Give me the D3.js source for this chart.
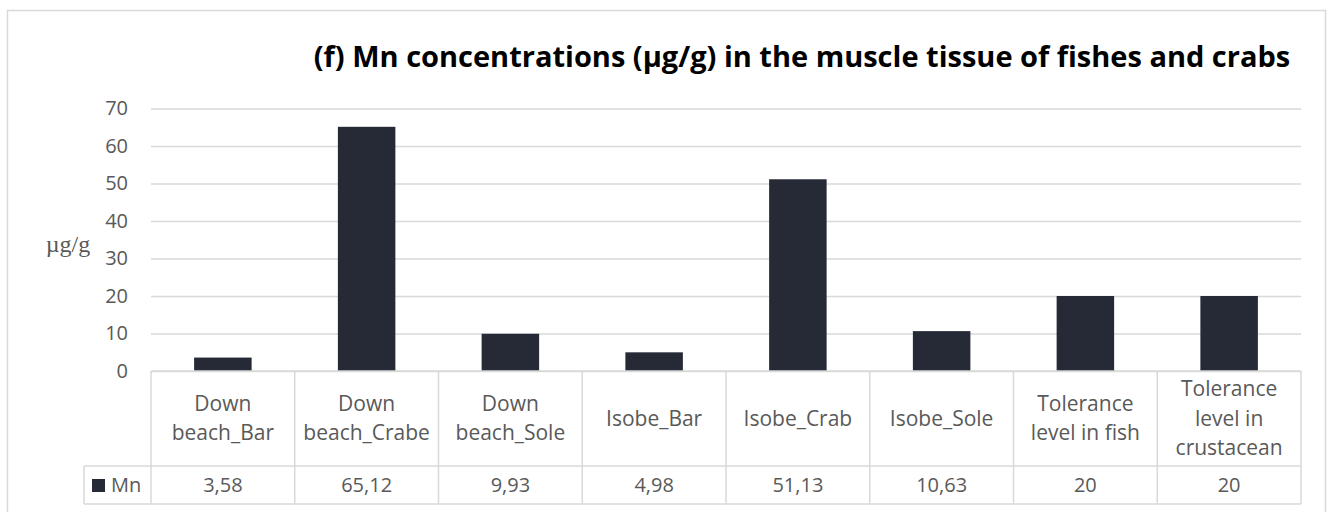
<!DOCTYPE html>
<html>
<head>
<meta charset="utf-8">
<script src="https://cdn.jsdelivr.net/npm/d3@7"></script>
<style>
  body { margin: 0; background: #fff; }
</style>
</head>
<body>
<div id="chart"></div>
<script>
// chart data
var categories = [
  ["Down", "beach_Bar"],
  ["Down", "beach_Crabe"],
  ["Down", "beach_Sole"],
  ["Isobe_Bar"],
  ["Isobe_Crab"],
  ["Isobe_Sole"],
  ["Tolerance", "level in fish"],
  ["Tolerance", "level in", "crustacean"]
];
var mnValues = [3.58, 65.12, 9.93, 4.98, 51.13, 10.63, 20, 20];
var valueLabels = ["3,58", "65,12", "9,93", "4,98", "51,13", "10,63", "20", "20"];
var yTicks = [0, 10, 20, 30, 40, 50, 60, 70];
var seriesName = "Mn";
var title = "(f) Mn concentrations (\u00b5g/g) in the muscle tissue of fishes and crabs";

var W = 1331, H = 512;
var plot = {left: 151, right: 1301, top: 108.5, bottom: 371};
var headerBottom = 466, tableBottom = 504, legendLeft = 84;
var grid = "#d9d9d9", textCol = "#595959", barCol = "#252a36";

var svg = d3.select("#chart").append("svg")
  .attr("width", W)
  .attr("height", H)
  .style("font-family", "'Open Sans', sans-serif");

// outer chart border
svg.append("rect")
  .attr("x", 7.5).attr("y", 10.5)
  .attr("width", 1318).attr("height", 520)
  .attr("fill", "white")
  .attr("stroke", grid).attr("stroke-width", 1.5);

// title
svg.append("text")
  .attr("x", 802).attr("y", 67)
  .attr("text-anchor", "middle")
  .style("font-family", "'Open Sans', sans-serif")
  .style("font-weight", "bold")
  .style("font-size", "29px")
  .attr("fill", "#000")
  .text(title);

var idx = d3.range(categories.length);

var x = d3.scaleBand()
  .domain(idx)
  .range([plot.left, plot.right])
  .paddingInner(0.6)
  .paddingOuter(0.3);

var xCell = d3.scaleBand()
  .domain(idx)
  .range([plot.left, plot.right]);

var y = d3.scaleLinear()
  .domain([0, 70])
  .range([plot.bottom, plot.top]);

// gridlines + y labels
var yAxis = svg.append("g")
  .attr("transform", "translate(" + plot.left + ",0)")
  .call(d3.axisLeft(y).tickValues(yTicks).tickSize(-(plot.right - plot.left)).tickPadding(23));
yAxis.select(".domain").remove();
yAxis.selectAll(".tick line").attr("stroke", grid).attr("stroke-width", 1.5);
yAxis.selectAll(".tick text")
  .attr("fill", textCol)
  .style("font-family", "'Open Sans', sans-serif")
  .style("font-size", "20px");

// y axis title
svg.append("text")
  .attr("x", 68).attr("y", 252)
  .attr("text-anchor", "middle")
  .style("font-family", "'Liberation Serif', 'Times New Roman', serif")
  .style("font-size", "24px")
  .attr("fill", textCol)
  .text("\u00b5g/g");

// bars
svg.selectAll(".bar")
  .data(mnValues)
  .enter()
  .append("rect")
    .attr("class", "bar")
    .attr("x", function(d, i) { return x(i); })
    .attr("y", function(d) { return y(d); })
    .attr("width", x.bandwidth())
    .attr("height", function(d) { return y(0) - y(d); })
    .attr("fill", barCol);

// data table lines
var tbl = svg.append("g")
  .attr("stroke", grid)
  .attr("stroke-width", 1.5);
tbl.append("line").attr("x1", plot.left).attr("x2", plot.right).attr("y1", plot.bottom).attr("y2", plot.bottom);
tbl.append("line").attr("x1", legendLeft).attr("x2", plot.right).attr("y1", headerBottom).attr("y2", headerBottom);
tbl.append("line").attr("x1", legendLeft).attr("x2", plot.right).attr("y1", tableBottom).attr("y2", tableBottom);
tbl.append("line").attr("x1", legendLeft).attr("x2", legendLeft).attr("y1", headerBottom).attr("y2", tableBottom);
tbl.selectAll(".vl")
  .data(idx.concat([categories.length]))
  .enter()
  .append("line")
    .attr("x1", function(i) { return i < categories.length ? xCell(i) : plot.right; })
    .attr("x2", function(i) { return i < categories.length ? xCell(i) : plot.right; })
    .attr("y1", plot.bottom)
    .attr("y2", tableBottom);

// category labels
var lineH = 29.5;
svg.selectAll(".cat")
  .data(categories)
  .enter()
  .append("text")
    .attr("class", "cat")
    .attr("text-anchor", "middle")
    .attr("fill", textCol)
    .style("font-size", "21px")
    .each(function(lines, i) {
      var cx = xCell(i) + xCell.bandwidth() / 2;
      var mid = (plot.bottom + headerBottom) / 2;
      var y0 = mid - (lines.length - 1) * lineH / 2 + 7;
      d3.select(this).selectAll("tspan")
        .data(lines)
        .enter()
        .append("tspan")
          .attr("x", cx)
          .attr("y", function(l, j) { return y0 + j * lineH; })
          .text(function(l) { return l; });
    });

// values row
svg.selectAll(".val")
  .data(valueLabels)
  .enter()
  .append("text")
    .attr("class", "val")
    .attr("x", function(d, i) { return xCell(i) + xCell.bandwidth() / 2; })
    .attr("y", (headerBottom + tableBottom) / 2 + 7)
    .attr("text-anchor", "middle")
    .attr("fill", textCol)
    .style("font-size", "20px")
    .text(function(d) { return d; });

// legend key
svg.append("rect")
  .attr("x", 92).attr("y", 479)
  .attr("width", 13).attr("height", 13)
  .attr("fill", barCol);
svg.append("text")
  .attr("x", 111).attr("y", (headerBottom + tableBottom) / 2 + 7)
  .attr("fill", textCol)
  .style("font-size", "20px")
  .text(seriesName);
</script>
</body>
</html>
